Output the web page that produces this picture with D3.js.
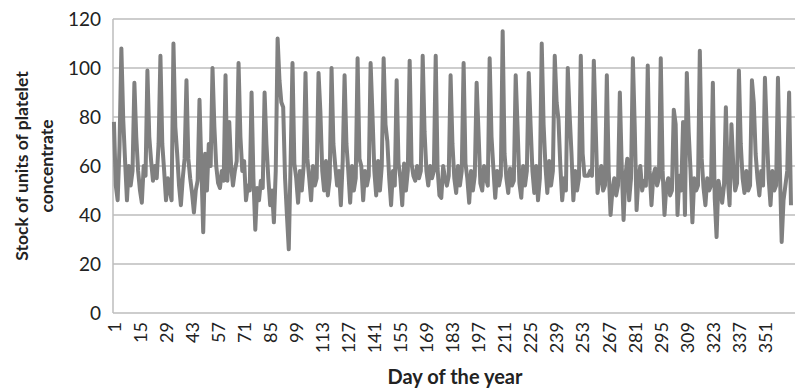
<!DOCTYPE html>
<html>
<head>
<meta charset="utf-8">
<script src="https://cdn.jsdelivr.net/npm/d3@7"></script>
<style>
  body { margin: 0; background: #fff; }
  svg { display: block; font-family: Lato, "Open Sans", sans-serif; }
</style>
</head>
<body>
<div id="chart"></div>
<script>
// Daily stock of platelet concentrate units (estimated)
const firstDays = [78, 52, 46, 68];
// each row: a run of days starting on a peak day (day 5, 12, 19, ...)
const weeks = [
  [108, 79, 62, 46, 60, 52, 58],
  [94, 72, 58, 50, 45, 60, 56],
  [99, 72, 62, 54, 60, 55, 69],
  [105, 69, 58, 46, 55, 50, 46],
  [110, 76, 65, 52, 44, 55, 63],
  [95, 63, 55, 49, 41, 50, 54],
  [87, 60, 33, 65, 50, 69, 60],
  [100, 76, 60, 53, 51, 58, 54],
  [97, 54, 78, 60, 52, 58, 62],
  [102, 72, 58, 62, 46, 52, 50],
  [90, 55, 34, 51, 46, 54, 51],
  [90, 69, 55, 44, 50, 37, 58],
  [112, 95, 86, 84, 55, 40, 26, 62],
  [102, 61, 55, 45, 58, 50, 60],
  [98, 63, 55, 46, 60, 52, 55],
  [98, 82, 58, 50, 62, 48, 55],
  [100, 69, 60, 52, 58, 44, 62],
  [97, 69, 58, 45, 60, 50, 55],
  [104, 63, 60, 46, 58, 52, 56],
  [102, 81, 58, 48, 62, 50, 60],
  [104, 77, 70, 55, 44, 58, 52],
  [95, 61, 55, 44, 61, 50, 58],
  [103, 61, 56, 54, 60, 55, 58],
  [105, 74, 58, 52, 60, 55, 58],
  [105, 59, 48, 47, 60, 55, 52, 56],
  [97, 69, 55, 49, 60, 52, 58],
  [102, 61, 55, 45, 58, 50, 56],
  [94, 74, 53, 50, 60, 55, 52],
  [104, 72, 59, 47, 58, 52, 56],
  [115, 65, 55, 49, 59, 52, 54],
  [97, 76, 53, 47, 60, 52, 58],
  [98, 77, 58, 49, 60, 46, 55],
  [110, 77, 60, 49, 62, 52, 58],
  [105, 86, 79, 60, 46, 55, 50],
  [100, 81, 65, 46, 58, 50, 55],
  [105, 65, 56, 56, 56, 58, 56],
  [103, 76, 49, 55, 60, 50, 52],
  [97, 58, 40, 50, 55, 48, 52],
  [90, 60, 38, 56, 63, 46, 55],
  [104, 76, 42, 55, 60, 50, 54, 52],
  [101, 58, 44, 56, 59, 52, 55],
  [104, 58, 40, 52, 55, 48, 50],
  [83, 77, 40, 56, 50, 78, 40],
  [98, 74, 58, 37, 55, 50, 52],
  [107, 63, 51, 44, 55, 50, 52],
  [94, 47, 31, 54, 50, 45, 52],
  [84, 55, 44, 77, 60, 50, 53],
  [99, 69, 55, 49, 58, 50, 52],
  [95, 86, 65, 55, 48, 58, 52],
  [96, 74, 55, 44, 58, 50, 52],
  [96, 60, 29, 46, 52, 58]
];
const lastDays = [90, 44];
const yTicks = [0, 20, 40, 60, 80, 100, 120];
const xTickDays = d3.range(1, 352, 14); // 1, 15, 29, ... 351

const stock = firstDays.concat(...weeks, lastDays);
const data = stock.map((v, i) => ({ day: i + 1, value: v }));

const chartWidth = 795, chartHeight = 389;
const plotLeft = 113, plotTop = 19, plotBottom = 313;
const dayWidth = 1.86;

const svg = d3.select('#chart').append('svg')
  .attr('width', chartWidth)
  .attr('height', chartHeight);

const x = d3.scaleLinear()
  .domain([0.5, 365.5])
  .range([plotLeft, plotLeft + 365 * dayWidth]);

const y = d3.scaleLinear()
  .domain([0, 120])
  .range([plotBottom, plotTop]);

// horizontal gridlines
svg.append('g')
  .selectAll('line')
  .data(yTicks)
  .enter().append('line')
  .attr('x1', plotLeft)
  .attr('x2', chartWidth)
  .attr('y1', d => y(d))
  .attr('y2', d => y(d))
  .attr('stroke', '#bdbdbd')
  .attr('stroke-width', 1.5);

// y axis line
svg.append('line')
  .attr('x1', plotLeft).attr('x2', plotLeft)
  .attr('y1', plotTop).attr('y2', plotBottom)
  .attr('stroke', '#bdbdbd')
  .attr('stroke-width', 1.5);

// y tick labels
const yAxis = svg.append('g')
  .attr('transform', 'translate(' + plotLeft + ',0)')
  .call(d3.axisLeft(y).tickValues(yTicks).tickSize(0).tickPadding(12));
yAxis.select('.domain').remove();
yAxis.selectAll('text')
  .style('font-size', '19px')
  .style('font-family', 'Lato, "Open Sans", sans-serif')
  .attr('fill', '#222');

// x tick labels, rotated
const xAxis = svg.append('g')
  .attr('transform', 'translate(0,' + plotBottom + ')')
  .call(d3.axisBottom(x).tickValues(xTickDays).tickSize(0).tickFormat(d3.format('d')));
xAxis.select('.domain').remove();
xAxis.selectAll('text')
  .attr('transform', 'rotate(-90)')
  .attr('x', -9)
  .attr('y', 0)
  .attr('dy', '0.35em')
  .style('text-anchor', 'end')
  .style('font-size', '18px')
  .style('font-family', 'Lato, "Open Sans", sans-serif')
  .attr('fill', '#222');

// the stock line
const line = d3.line()
  .x(d => x(d.day))
  .y(d => y(d.value));

svg.append('path')
  .datum(data)
  .attr('d', line)
  .attr('fill', 'none')
  .attr('stroke', '#808080')
  .attr('stroke-width', 4)
  .attr('stroke-linejoin', 'round');

// axis titles
svg.append('text')
  .text('Day of the year')
  .attr('x', 455)
  .attr('y', 384)
  .style('font-size', '20px')
  .style('font-weight', 'bold')
  .style('text-anchor', 'middle')
  .attr('fill', '#222');

const yTitle = svg.append('text')
  .attr('transform', 'translate(0,166) rotate(-90)')
  .style('font-size', '17.5px')
  .style('font-weight', 'bold')
  .style('text-anchor', 'middle')
  .attr('fill', '#222');
yTitle.append('tspan').attr('x', 0).attr('y', 28).text('Stock of units of platelet');
yTitle.append('tspan').attr('x', 0).attr('y', 53).text('concentrate');
</script>
</body>
</html>
